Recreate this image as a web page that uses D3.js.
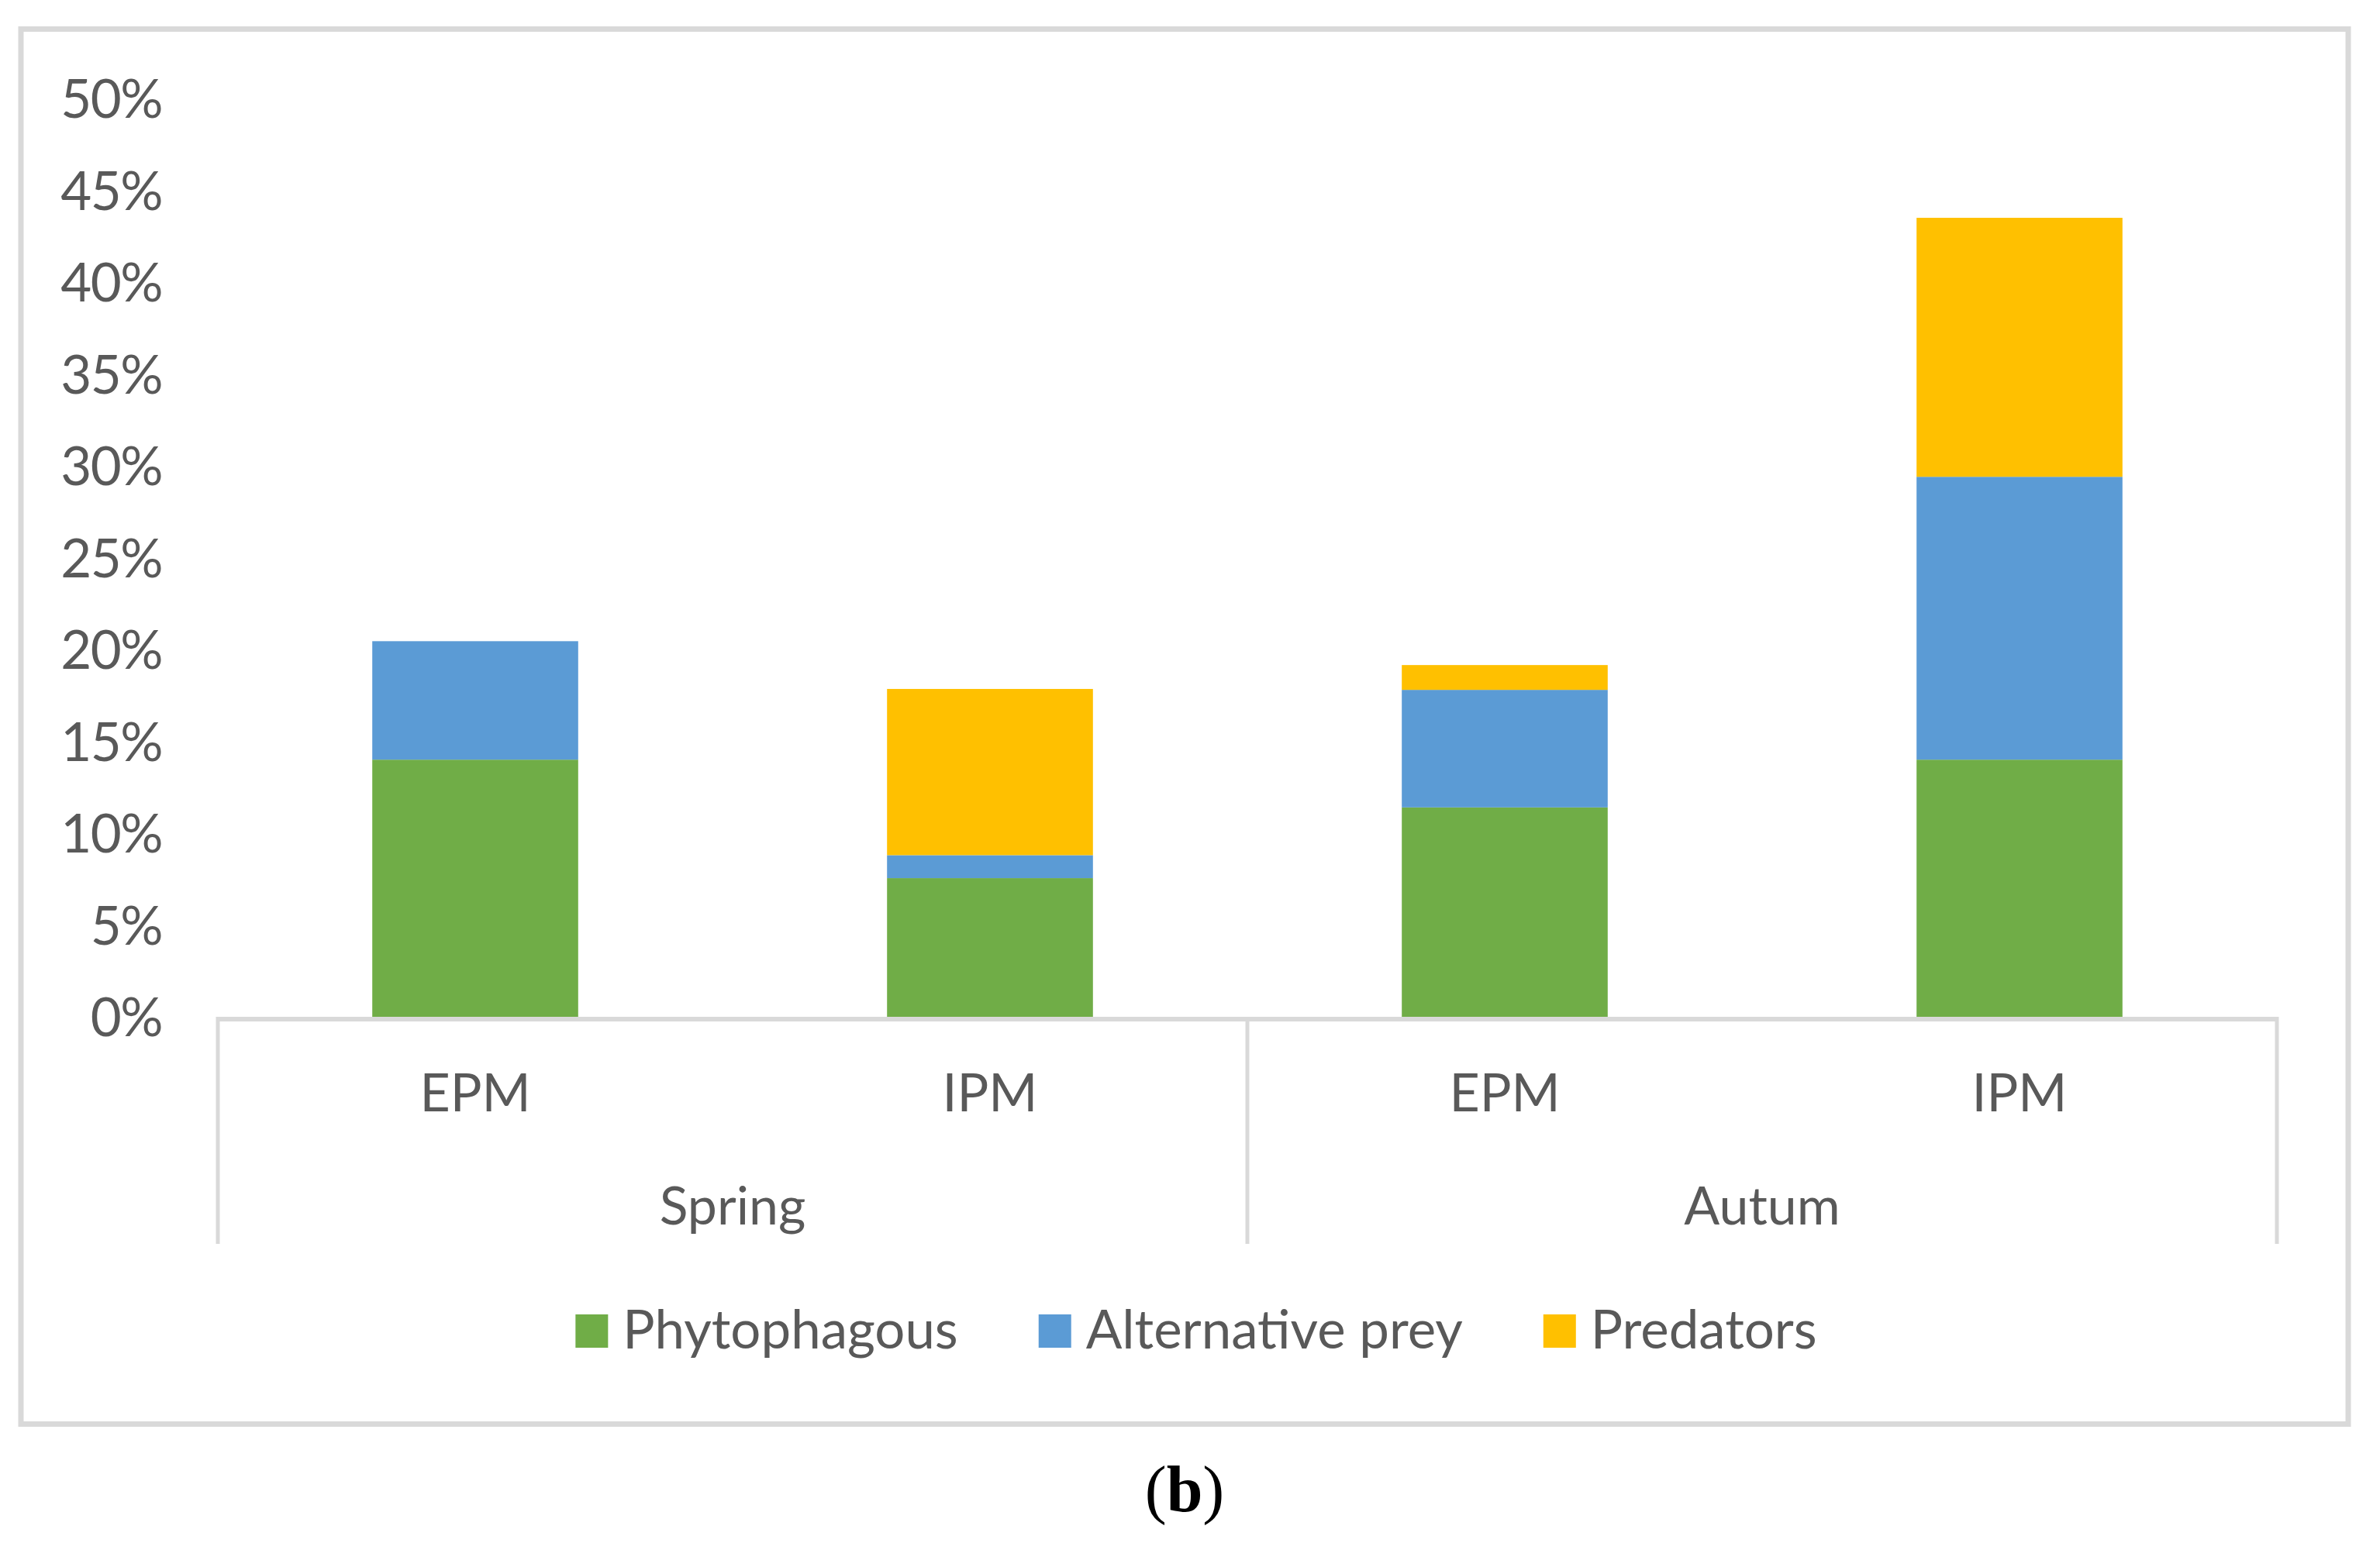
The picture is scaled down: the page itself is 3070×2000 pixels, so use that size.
<!DOCTYPE html>
<html>
<head>
<meta charset="utf-8">
<script src="https://cdn.jsdelivr.net/npm/d3@7"></script>
<style>
  html, body { margin: 0; padding: 0; background: #ffffff; }
  svg { display: block; }
</style>
</head>
<body>
<svg id="chart" width="3070" height="2000"></svg>
<script>
// ---- data ----
const categories = ["EPM", "IPM", "EPM", "IPM"];
const seasons = ["Spring", "Autum"];
const seriesNames = ["Phytophagous", "Alternative prey", "Predators"];
const phytophagous = [0.140, 0.0755, 0.114, 0.140];
const alternativePrey = [0.0645, 0.0125, 0.064, 0.154];
const predators = [0.0, 0.0905, 0.0135, 0.141];
const yTicks = [0, 0.05, 0.10, 0.15, 0.20, 0.25, 0.30, 0.35, 0.40, 0.45, 0.50];
const caption = "b";

// ---- styles ----
const colors = ["#70ad47", "#5b9bd5", "#ffc000"];
const textColor = "#595959";
const gridGray = "#d9d9d9";
const fontFamily = "Lato, 'Open Sans', sans-serif";

const svg = d3.select("#chart");

// outer frame
svg.append("rect")
  .attr("x", 27).attr("y", 37.5)
  .attr("width", 3002).attr("height", 1800)
  .attr("fill", "#ffffff")
  .attr("stroke", gridGray).attr("stroke-width", 7);

const x0 = 281, x1 = 2937, yTop = 127, yBase = 1312;

const rows = categories.map((c, i) => ({
  key: i, cat: c, season: seasons[Math.floor(i / 2)],
  "Phytophagous": phytophagous[i],
  "Alternative prey": alternativePrey[i],
  "Predators": predators[i]
}));

const x = d3.scaleBand()
  .domain(rows.map(r => r.key))
  .range([x0, x1])
  .paddingInner(0.6)
  .paddingOuter(0.3);

const xCat = d3.scaleBand()
  .domain(rows.map(r => r.key))
  .range([x0, x1])
  .padding(0);

const xSeason = d3.scaleBand()
  .domain(seasons)
  .range([x0, x1])
  .padding(0);

const y = d3.scaleLinear().domain([0, 0.5]).range([yBase, yTop]);

// y-axis tick labels
const yAxis = d3.axisLeft(y)
  .tickValues(yTicks)
  .tickFormat(d3.format(".0%"))
  .tickSize(0)
  .tickPadding(0);
const gy = svg.append("g").attr("transform", "translate(209,0)").call(yAxis);
gy.select(".domain").remove();
gy.selectAll("text")
  .attr("fill", textColor)
  .attr("font-family", fontFamily)
  .attr("font-size", 69)
  .attr("letter-spacing", -1.5)
  .attr("dy", "0.36em");

// stacked bars
const stack = d3.stack().keys(seriesNames);
const stacked = stack(rows);

svg.append("g").selectAll("g")
  .data(stacked)
  .join("g")
  .attr("fill", (d, i) => colors[i])
  .selectAll("rect")
  .data(d => d)
  .join("rect")
  .attr("x", d => x(d.data.key))
  .attr("width", x.bandwidth())
  .attr("y", d => y(d[1]))
  .attr("height", d => y(d[0]) - y(d[1]));

// category axis line
svg.append("line")
  .attr("x1", x0).attr("x2", x1)
  .attr("y1", yBase + 3).attr("y2", yBase + 3)
  .attr("stroke", gridGray).attr("stroke-width", 6);

// vertical separators (multi-level axis)
const sepX = [x0].concat(seasons.map(s => xSeason(s) + xSeason.bandwidth()));
svg.append("g").selectAll("line")
  .data(sepX)
  .join("line")
  .attr("x1", d => d).attr("x2", d => d)
  .attr("y1", yBase).attr("y2", 1605)
  .attr("stroke", gridGray).attr("stroke-width", 5);

// category labels
svg.append("g").selectAll("text")
  .data(rows)
  .join("text")
  .attr("x", d => xCat(d.key) + xCat.bandwidth() / 2)
  .attr("y", 1434)
  .attr("text-anchor", "middle")
  .attr("fill", textColor)
  .attr("font-family", fontFamily)
  .attr("font-size", 68)
  .text(d => d.cat);

// season labels
svg.append("g").selectAll("text")
  .data(seasons)
  .join("text")
  .attr("x", d => xSeason(d) + xSeason.bandwidth() / 2)
  .attr("y", 1580)
  .attr("text-anchor", "middle")
  .attr("fill", textColor)
  .attr("font-family", fontFamily)
  .attr("font-size", 68)
  .text(d => d);

// legend
const legend = svg.append("g");
const items = legend.selectAll("g")
  .data(seriesNames)
  .join("g");
items.append("rect")
  .attr("width", 42).attr("height", 43)
  .attr("y", 1696)
  .attr("fill", (d, i) => colors[i]);
items.append("text")
  .attr("x", 61)
  .attr("y", 1740)
  .attr("fill", textColor)
  .attr("font-family", fontFamily)
  .attr("font-size", 69)
  .text(d => d);
// layout legend items centered
const widths = [];
items.each(function () {
  widths.push(61 + d3.select(this).select("text").node().getComputedTextLength());
});
const gap = 104;
const total = d3.sum(widths) + gap * (widths.length - 1);
let cx = 1543 - total / 2;
items.each(function (d, i) {
  d3.select(this).attr("transform", `translate(${cx},0)`);
  cx += widths[i] + gap;
});

// caption
const cap = svg.append("text")
  .attr("x", 1528).attr("y", 1950)
  .attr("text-anchor", "middle")
  .attr("fill", "#000000")
  .attr("font-family", "'Liberation Serif', 'Times New Roman', serif")
  .attr("font-size", 84);
cap.append("tspan").text("(");
cap.append("tspan").attr("font-weight", "bold").text(caption);
cap.append("tspan").text(")");
</script>
</body>
</html>
